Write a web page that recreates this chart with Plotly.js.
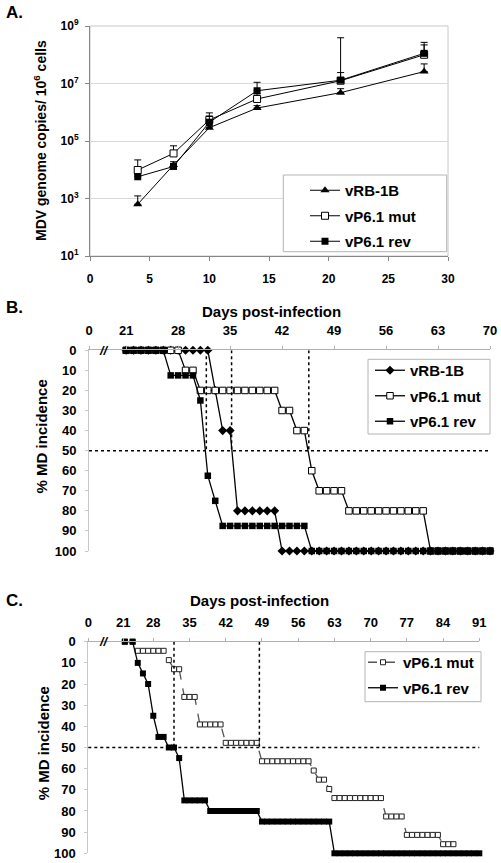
<!DOCTYPE html>
<html><head><meta charset="utf-8">
<script src="https://cdn.plot.ly/plotly-3.0.1.min.js"></script>
<style>html,body{margin:0;padding:0;background:#fff;} #chart{width:501px;height:863px;}</style>
</head><body><div id="chart"></div>
<script>
// ---------- Panel A data ----------
const aDays = [4, 7, 10, 14, 21, 28];
const aRB = [630, 14700, 290000, 1400000, 4800000, 26000000];
const aRBerr = [600, 4300, 50000, 300000, 1800000, 22000000];
const aMut = [9800, 37000, 540000, 2900000, 12500000, 100000000];
const aMutErr = [12200, 31000, 410000, 1500000, 11500000, 120000000];
const aRev = [5700, 13000, 450000, 5600000, 13000000, 112000000];
const aRevErr = [1000, 3000, 290000, 5400000, 377000000, 158000000];
const aErrMinus = [0, 0, 0, 0, 0, 0];
const aYTickVals = [10, 1000, 100000, 10000000, 1000000000];
const aYTickText = ['10<sup>1</sup>', '10<sup>3</sup>', '10<sup>5</sup>', '10<sup>7</sup>', '10<sup>9</sup>'];

// ---------- Panel B data ----------
const bTickVals = [16, 21, 28, 35, 42, 49, 56, 63, 70];
const bTickText = ["0", "21", "28", "35", "42", "49", "56", "63", "70"];
const bRBDays = [21,22,23,24,25,26,27,28,29,30,31,32,33,34,35,36,37,38,39,40,41,42,43,44,45,46,47,48,49,50,51,52,53,54,55,56,57,58,59,60,61,62,63,64,65,66,67,68,69,70];
const bRBVals = [0,0,0,0,0,0,0,0,0,0,0,0,20,40,40,80,80,80,80,80,80,100,100,100,100,100,100,100,100,100,100,100,100,100,100,100,100,100,100,100,100,100,100,100,100,100,100,100,100,100];
const bMutDays = [21,22,23,24,25,26,27,28,29,30,31,32,33,34,35,36,37,38,39,40,41,42,43,44,45,46,47,48,49,50,51,52,53,54,55,56,57,58,59,60,61,62,63,64,65,66,67,68,69,70];
const bMutVals = [0,0,0,0,0,0,0,0,10,10,20,20,20,20,20,20,20,20,20,20,20,30,30,40,40,60,70,70,70,70,80,80,80,80,80,80,80,80,80,80,80,100,100,100,100,100,100,100,100,100];
const bRevDays = [21,22,23,24,25,26,27,28,29,30,31,32,33,34,35,36,37,38,39,40,41,42,43,44,45,46,47,48,49,50,51,52,53,54,55,56,57,58,59,60,61,62,63,64,65,66,67,68,69,70];
const bRevVals = [0,0,0,0,0,0,12.5,12.5,12.5,12.5,25,62.5,75,87.5,87.5,87.5,87.5,87.5,87.5,87.5,87.5,87.5,87.5,87.5,87.5,100,100,100,100,100,100,100,100,100,100,100,100,100,100,100,100,100,100,100,100,100,100,100,100,100];
const bHalf = [31.8, 35.2, 45.6];

// ---------- Panel C data ----------
const cTickVals = [15.44, 22.2, 28, 35, 42, 49, 56, 63, 70, 77, 84, 91];
const cTickText = ["0", "21", "28", "35", "42", "49", "56", "63", "70", "77", "84", "91"];
const cMutDays = [22.5,24,25,26,27,28,29,30,31,32,33,34,35,36,37,38,39,40,41,42,43,44,45,46,47,48,49,50,51,52,53,54,55,56,57,58,59,60,61,62,63,64,65,66,67,68,69,70,71,72,73,74,75,76,77,78,79,80,81,82,83,84,85,86];
const cMutVals = [0,0,4.3,4.3,4.3,4.3,4.3,4.3,8.7,13.0,13.0,26.1,26.1,26.1,39.1,39.1,39.1,39.1,39.1,47.8,47.8,47.8,47.8,47.8,47.8,47.8,56.5,56.5,56.5,56.5,56.5,56.5,56.5,56.5,56.5,56.5,60.9,65.2,65.2,69.6,73.9,73.9,73.9,73.9,73.9,73.9,73.9,73.9,73.9,73.9,82.6,82.6,82.6,82.6,91.3,91.3,91.3,91.3,91.3,91.3,91.3,95.7,95.7,95.7];
const cRevDays = [22.5,24,25,26,27,28,29,30,31,32,33,34,35,36,37,38,39,40,41,42,43,44,45,46,47,48,49,50,51,52,53,54,55,56,57,58,59,60,61,62,63,64,65,66,67,68,69,70,71,72,73,74,75,76,77,78,79,80,81,82,83,84,85,86,87,88,89,90,91];
const cRevVals = [0,0,10,15,20,35,45,45,50,50,55,75,75,75,75,75,80,80,80,80,80,80,80,80,80,80,85,85,85,85,85,85,85,85,85,85,85,85,85,85,100,100,100,100,100,100,100,100,100,100,100,100,100,100,100,100,100,100,100,100,100,100,100,100,100,100,100,100,100];
const cHalf = [32.0, 48.5];

const W = 501, H = 863;
const X = p => p / W;
const Y = p => 1 - p / H;
const FONT = 'Liberation Sans, Arial, sans-serif';

const traces = [
  {x: aDays, y: aRB, xaxis: 'x', yaxis: 'y', mode: 'lines+markers', name: 'vRB-1B', legend: 'legend', legendgroup: 'a1',
   line: {color: 'black', width: 1}, marker: {symbol: 'triangle-up', size: 8, color: 'black'},
   error_y: {type: 'data', symmetric: false, array: aRBerr, arrayminus: aErrMinus, color: 'black', thickness: 1, width: 3.5}},
  {x: aDays, y: aMut, xaxis: 'x', yaxis: 'y', mode: 'lines+markers', name: 'vP6.1 mut', legend: 'legend', legendgroup: 'a2',
   line: {color: 'black', width: 1}, marker: {symbol: 'square', size: 7, color: 'white', line: {color: 'black', width: 1}},
   error_y: {type: 'data', symmetric: false, array: aMutErr, arrayminus: aErrMinus, color: 'black', thickness: 1, width: 3.5}},
  {x: aDays, y: aRev, xaxis: 'x', yaxis: 'y', mode: 'lines+markers', name: 'vP6.1 rev', legend: 'legend', legendgroup: 'a3',
   line: {color: 'black', width: 1}, marker: {symbol: 'square', size: 7, color: 'black'},
   error_y: {type: 'data', symmetric: false, array: aRevErr, arrayminus: aErrMinus, color: 'black', thickness: 1, width: 3.5}},

  {x: bRBDays, y: bRBVals, xaxis: 'x2', yaxis: 'y2', mode: 'lines+markers', name: 'vRB-1B', legend: 'legend2', legendgroup: 'b1', cliponaxis: false,
   line: {color: 'black', width: 1.3}, marker: {symbol: 'diamond', size: 7, color: 'black'}},
  {x: bMutDays, y: bMutVals, xaxis: 'x2', yaxis: 'y2', mode: 'lines+markers', name: 'vP6.1 mut', legend: 'legend2', legendgroup: 'b2', cliponaxis: false,
   line: {color: 'black', width: 1.3}, marker: {symbol: 'square', size: 6.5, color: 'white', line: {color: 'black', width: 1}}},
  {x: bRevDays, y: bRevVals, xaxis: 'x2', yaxis: 'y2', mode: 'lines+markers', name: 'vP6.1 rev', legend: 'legend2', legendgroup: 'b3', cliponaxis: false,
   line: {color: 'black', width: 1.3}, marker: {symbol: 'square', size: 6.5, color: 'black'}},

  {x: cMutDays, y: cMutVals, xaxis: 'x3', yaxis: 'y3', mode: 'lines+markers', name: 'vP6.1 mut', legend: 'legend3', legendgroup: 'c1', cliponaxis: false,
   line: {color: '#555555', width: 1.3, dash: 'dash'}, marker: {symbol: 'square', size: 5, color: 'white', line: {color: '#222', width: 1}}},
  {x: cRevDays, y: cRevVals, xaxis: 'x3', yaxis: 'y3', mode: 'lines+markers', name: 'vP6.1 rev', legend: 'legend3', legendgroup: 'c2', cliponaxis: false,
   line: {color: 'black', width: 1.3}, marker: {symbol: 'square', size: 6, color: 'black'}}
];

const legendBase = {bgcolor: 'rgba(0,0,0,0)', borderwidth: 0, font: {family: FONT, size: 15, weight: 'bold', color: 'black'},
  xanchor: 'left', yanchor: 'top', traceorder: 'grouped', tracegroupgap: 3};

const BOX = {color: '#b4b4b4', width: 1};
const shapes = [
  {type: 'rect', xref: 'x domain', yref: 'y domain', x0: 0, x1: 1, y0: 0, y1: 1, line: {color: '#c8c8c8', width: 1}, layer: 'below'},
  {type: 'rect', xref: 'paper', yref: 'paper', x0: X(283.3), x1: X(446.7), y0: Y(251.7), y1: Y(175), line: BOX, fillcolor: 'white', layer: 'above'},
  {type: 'rect', xref: 'paper', yref: 'paper', x0: X(368), x1: X(490), y0: Y(434), y1: Y(359.3), line: BOX, fillcolor: 'white', layer: 'above'},
  {type: 'rect', xref: 'paper', yref: 'paper', x0: X(365), x1: X(481), y0: Y(701.7), y1: Y(651.7), line: BOX, fillcolor: 'white', layer: 'above'},
  {type: 'line', xref: 'x2 domain', yref: 'y2', x0: 0, x1: 1, y0: 50, y1: 50, line: {color: 'black', width: 1.5, dash: 'dot'}},
  {type: 'line', xref: 'x3 domain', yref: 'y3', x0: 0, x1: 1, y0: 50, y1: 50, line: {color: 'black', width: 1.5, dash: 'dot'}}
];
bHalf.forEach(t => shapes.push({type: 'line', xref: 'x2', yref: 'y2', x0: t, x1: t, y0: 0, y1: 50, line: {color: 'black', width: 1.5, dash: 'dot'}}));
cHalf.forEach(t => shapes.push({type: 'line', xref: 'x3', yref: 'y3', x0: t, x1: t, y0: 0, y1: 50, line: {color: 'black', width: 1.5, dash: 'dot'}}));

const ann = (text, x, y, size, extra) => Object.assign({text: text, x: X(x), y: Y(y), xref: 'paper', yref: 'paper', showarrow: false,
  xanchor: 'center', yanchor: 'middle',
  font: {family: FONT, size: size, weight: 'bold', color: 'black'}}, extra || {});

const annotations = [
  ann('A.', 4, 13, 17, {xanchor: 'left'}),
  ann('B.', 4, 308, 17, {xanchor: 'left'}),
  ann('C.', 4, 600, 17, {xanchor: 'left'}),
  ann('MDV genome copies/ 10<sup>6</sup> cells', 40, 141, 14, {textangle: -90}),
  ann('Days post-infection', 271.7, 311.7, 15),
  ann('% MD incidence', 41.7, 436.7, 15, {textangle: -90}),
  ann('Days post-infection', 259, 600.7, 15),
  ann('% MD incidence', 43, 743.3, 15, {textangle: -90}),
  ann('//', 104, 350.3, 13, {font: {family: FONT, size: 13, weight: 'bold', color: 'black', style: 'italic'}}),
  ann('//', 104, 641.7, 13, {font: {family: FONT, size: 13, weight: 'bold', color: 'black', style: 'italic'}})
];

const tf = s => ({family: FONT, size: s, weight: 'bold', color: 'black'});

const layout = {
  width: W, height: H, margin: {l: 0, r: 0, t: 0, b: 0},
  paper_bgcolor: 'white', plot_bgcolor: 'white', showlegend: true,
  font: {family: FONT, color: 'black'},
  xaxis: {domain: [X(90), X(448)], range: [0, 30], dtick: 5, tick0: 0, anchor: 'y', showline: true, linecolor: '#868686',
    ticks: 'outside', ticklen: 4, tickcolor: '#868686', showgrid: false, zeroline: false, tickfont: tf(12), ticklabelstandoff: 8},
  yaxis: {domain: [Y(256), Y(26)], type: 'log', range: [1, 9], tickmode: 'array', tickvals: aYTickVals, ticktext: aYTickText, anchor: 'x',
    showline: true, linecolor: '#868686', ticks: 'outside', ticklen: 4, tickcolor: '#868686', showgrid: true, gridcolor: '#d9d9d9',
    zeroline: false, tickfont: tf(12), ticklabelstandoff: 4},
  xaxis2: {domain: [X(89), X(490)], range: [16, 70], side: 'top', anchor: 'y2', tickmode: 'array', tickvals: bTickVals, ticktext: bTickText,
    showline: true, linecolor: '#b0b0b0', ticks: 'outside', ticklen: 3, tickcolor: '#b0b0b0', showgrid: false, zeroline: false,
    tickfont: tf(13), ticklabelstandoff: 6},
  yaxis2: {domain: [Y(551), Y(350.3)], range: [100, 0], dtick: 10, tick0: 0, anchor: 'x2', showline: true, linecolor: '#c8c8c8',
    ticks: 'outside', ticklen: 3, tickcolor: '#c8c8c8', showgrid: false, zeroline: false, tickfont: tf(13), ticklabelstandoff: 6},
  xaxis3: {domain: [X(88.3), X(479.3)], range: [15.44, 91], side: 'top', anchor: 'y3', tickmode: 'array', tickvals: cTickVals, ticktext: cTickText,
    showline: true, linecolor: '#b0b0b0', ticks: 'outside', ticklen: 3, tickcolor: '#b0b0b0', showgrid: false, zeroline: false,
    tickfont: tf(13), ticklabelstandoff: 6},
  yaxis3: {domain: [Y(853.3), Y(641.7)], range: [100, 0], dtick: 10, tick0: 0, anchor: 'x3', showline: true, linecolor: '#c8c8c8',
    ticks: 'outside', ticklen: 3, tickcolor: '#c8c8c8', showgrid: false, zeroline: false, tickfont: tf(13), ticklabelstandoff: 6},
  legend: Object.assign({}, legendBase, {x: X(305), y: Y(174)}),
  legend2: Object.assign({}, legendBase, {x: X(370), y: Y(354)}),
  legend3: Object.assign({}, legendBase, {x: X(363), y: Y(646)}),
  shapes: shapes,
  annotations: annotations
};

Plotly.newPlot('chart', traces, layout, {displayModeBar: false, staticPlot: true});
</script>
</body></html>
